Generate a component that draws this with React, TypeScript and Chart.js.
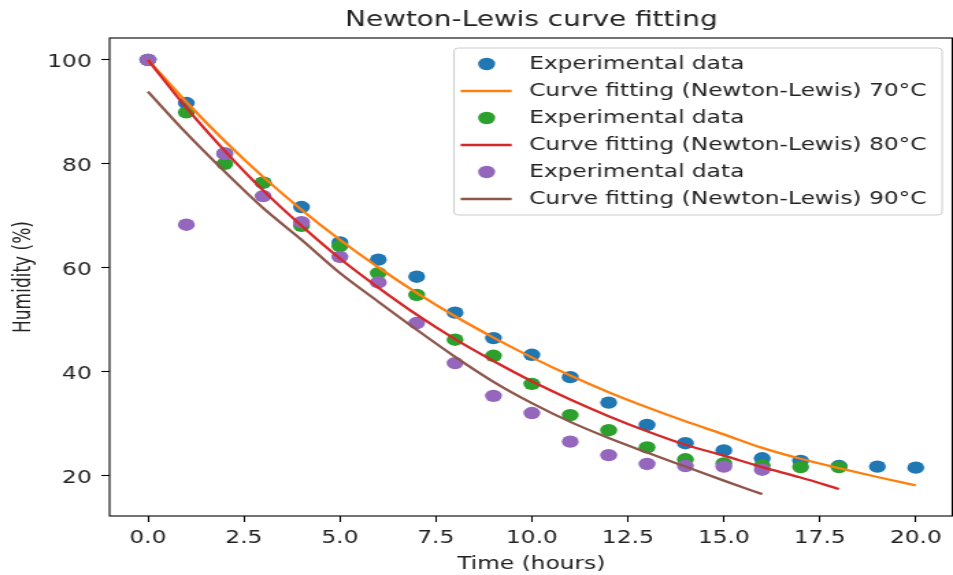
import React, { useEffect, useRef } from "react";
import { Chart, registerables } from "chart.js";

Chart.register(...registerables);

// ---------- data ----------
const hours70 = [0, 1, 2, 3, 4, 5, 6, 7, 8, 9, 10, 11, 12, 13, 14, 15, 16, 17, 18, 19, 20];
const exp70 = [100, 91.7, 82.0, 76.4, 71.7, 64.9, 61.6, 58.3, 51.4, 46.5, 43.3, 39.0, 34.1, 29.8, 26.3, 24.9, 23.4, 22.9, 21.9, 21.8, 21.6];
const fit70 = [100, 91.9, 84.4, 77.5, 71.2, 65.4, 60.1, 55.2, 50.7, 46.6, 42.8, 39.3, 36.1, 33.2, 30.5, 28.0, 25.4, 23.3, 21.5, 19.8, 18.2];

const hours80 = [0, 1, 2, 3, 4, 5, 6, 7, 8, 9, 10, 11, 12, 13, 14, 15, 16, 17, 18];
const exp80 = [100, 89.9, 80.0, 76.4, 68.1, 64.2, 59.0, 54.8, 46.2, 43.1, 37.7, 31.7, 28.8, 25.5, 23.2, 22.4, 22.0, 21.7, 21.7];
const fit80 = [100, 90.8, 82.5, 74.9, 68.1, 61.8, 56.2, 51.0, 46.3, 42.1, 38.2, 34.7, 31.5, 28.6, 26.0, 23.9, 21.7, 19.7, 17.5];

const hours90 = [0, 1, 2, 3, 4, 5, 6, 7, 8, 9, 10, 11, 12, 13, 14, 15, 16];
const exp90 = [100, 68.3, 81.9, 73.8, 68.8, 62.1, 57.2, 49.4, 41.7, 35.4, 32.1, 26.6, 24.0, 22.3, 21.9, 21.8, 21.2];
const fit90 = [93.9, 85.9, 78.5, 71.5, 65.4, 59.0, 53.5, 48.1, 42.9, 38.1, 34.0, 30.4, 27.3, 24.5, 21.8, 19.1, 16.5];

const xTicks = [0, 2.5, 5, 7.5, 10, 12.5, 15, 17.5, 20];
const yTicks = [20, 40, 60, 80, 100];

const titleText = "Newton-Lewis curve fitting";
const xTitle = "Time (hours)";
const yTitle = "Humidity (%)";
const expLabel = "Experimental data";
const fitLabel70 = "Curve fitting (Newton-Lewis) 70°C";
const fitLabel80 = "Curve fitting (Newton-Lewis) 80°C";
const fitLabel90 = "Curve fitting (Newton-Lewis) 90°C";

// ---------- styling ----------
const BLUE = "#1f77b4";
const ORANGE = "#ff7f0e";
const GREEN = "#2ca02c";
const RED = "#d62728";
const PURPLE = "#9467bd";
const BROWN = "#8c564b";
const TEXT = "#222222";
const FONT = "'DejaVu Sans', 'Liberation Sans', sans-serif";

const CANVAS_W = 696;
const CANVAS_H = 575;
const DISPLAY_W = 953;

const toXY = (xs: number[], ys: number[]) => xs.map((x, i) => ({ x, y: ys[i] }));

const scatterDs = (label: string, xs: number[], ys: number[], color: string, order: number) => ({
  label,
  data: toXY(xs, ys),
  backgroundColor: color,
  borderColor: color,
  pointRadius: 6.2,
  pointBorderWidth: 0,
  pointHoverRadius: 6.2,
  showLine: false,
  order,
});

const lineDs = (label: string, xs: number[], ys: number[], color: string, order: number) => ({
  label,
  data: toXY(xs, ys),
  backgroundColor: color,
  borderColor: color,
  borderWidth: 2.3,
  pointRadius: 0,
  pointHoverRadius: 0,
  showLine: true,
  fill: false,
  cubicInterpolationMode: "monotone",
  order,
});

const titlePlugin = {
  id: "mplTitle",
  afterDraw(chart: any) {
    const { ctx, chartArea } = chart;
    ctx.save();
    ctx.font = `20.4px ${FONT}`;
    ctx.fillStyle = TEXT;
    ctx.textAlign = "center";
    ctx.textBaseline = "middle";
    ctx.fillText(titleText, (chartArea.left + chartArea.right) / 2, 20.5);
    ctx.restore();
  },
};

const framePlugin = {
  id: "mplFrame",
  afterDatasetsDraw(chart: any) {
    const { ctx, chartArea } = chart;
    ctx.save();
    ctx.strokeStyle = "#000";
    ctx.lineWidth = 1.1;
    ctx.strokeRect(chartArea.left, chartArea.top, chartArea.right - chartArea.left - 0.5, chartArea.bottom - chartArea.top);
    ctx.restore();
  },
};

const legendPlugin = {
  id: "mplLegend",
  afterDraw(chart: any) {
    const { ctx } = chart;
    const x0 = 331.6, x1 = 688.0, y0 = 48, y1 = 215;
    ctx.save();
    ctx.beginPath();
    (ctx as any).roundRect(x0, y0, x1 - x0, y1 - y0, 3);
    ctx.fillStyle = "rgba(255,255,255,0.8)";
    ctx.fill();
    ctx.strokeStyle = "#cccccc";
    ctx.lineWidth = 1;
    ctx.stroke();
    ctx.font = `17px ${FONT}`;
    ctx.textAlign = "left";
    ctx.textBaseline = "middle";
    chart.data.datasets.forEach((ds: any, i: number) => {
      const y = 64 + 27 * i;
      if (ds.showLine) {
        ctx.beginPath();
        ctx.strokeStyle = ds.borderColor;
        ctx.lineWidth = 2.3;
        ctx.moveTo(336.4, y);
        ctx.lineTo(373.7, y);
        ctx.stroke();
      } else {
        ctx.beginPath();
        ctx.fillStyle = ds.backgroundColor;
        ctx.arc(355.4, y, 6.2, 0, Math.PI * 2);
        ctx.fill();
      }
      ctx.fillStyle = TEXT;
      ctx.fillText(ds.label, 386.5, y + 1);
    });
    ctx.restore();
  },
};

export default function App() {
  const ref = useRef<HTMLCanvasElement>(null);

  useEffect(() => {
    document.body.style.margin = "0";
    const canvas = ref.current;
    if (!canvas) return;
    Chart.defaults.font.family = FONT;
    const chart = new Chart(canvas, {
      type: "scatter",
      data: {
        datasets: [
          scatterDs(expLabel, hours70, exp70, BLUE, 5),
          lineDs(fitLabel70, hours70, fit70, ORANGE, 2),
          scatterDs(expLabel, hours80, exp80, GREEN, 4),
          lineDs(fitLabel80, hours80, fit80, RED, 1),
          scatterDs(expLabel, hours90, exp90, PURPLE, 3),
          lineDs(fitLabel90, hours90, fit90, BROWN, 0),
        ] as any,
      },
      options: {
        responsive: false,
        maintainAspectRatio: false,
        animation: false,
        devicePixelRatio: 1,
        events: [],
        layout: { padding: { top: 38, left: 0, right: 0, bottom: 0 }, autoPadding: false } as any,
        plugins: {
          legend: { display: false },
          title: { display: false },
          tooltip: { enabled: false },
        },
        scales: {
          x: {
            type: "linear",
            min: -1,
            max: 20.97,
            afterBuildTicks: (s: any) => {
              s.ticks = xTicks.map((v) => ({ value: v }));
            },
            afterFit: (s: any) => {
              s.height = 59;
              s.paddingLeft = 0;
              s.paddingRight = 0;
            },
            ticks: {
              callback: (v: any) => Number(v).toFixed(1),
              font: { size: 17 },
              color: TEXT,
              padding: 6,
              autoSkip: false,
              maxRotation: 0,
              minRotation: 0,
            },
            grid: { display: true, drawOnChartArea: false, drawTicks: true, tickLength: 6, tickColor: "#000", tickWidth: 1.1, color: "#000" },
            border: { display: false },
            title: { display: true, text: xTitle, font: { size: 17 }, color: TEXT, padding: { top: 0, bottom: 0.5 } },
          },
          y: {
            type: "linear",
            min: 12.3,
            max: 104.2,
            afterBuildTicks: (s: any) => {
              s.ticks = yTicks.map((v) => ({ value: v }));
            },
            afterFit: (s: any) => {
              s.width = 80;
              s.paddingTop = 0;
              s.paddingBottom = 0;
            },
            ticks: {
              callback: (v: any) => String(v),
              font: { size: 17 },
              color: TEXT,
              padding: 7,
              labelOffset: 2.5,
              autoSkip: false,
            },
            grid: { display: true, drawOnChartArea: false, drawTicks: true, tickLength: 6, tickColor: "#000", tickWidth: 1.1, color: "#000" },
            border: { display: false },
            title: { display: true, text: yTitle, font: { size: 17 }, color: TEXT, padding: { top: 7.5, bottom: 0 } },
          },
        },
      } as any,
      plugins: [framePlugin, titlePlugin, legendPlugin],
    });
    return () => chart.destroy();
  }, []);

  return (
    <div style={{ position: "absolute", left: 0, top: 0, width: DISPLAY_W, height: CANVAS_H, background: "#fff" }}>
      <canvas
        ref={ref}
        width={CANVAS_W}
        height={CANVAS_H}
        style={{ width: `${DISPLAY_W}px`, height: `${CANVAS_H}px`, display: "block" }}
      />
    </div>
  );
}
